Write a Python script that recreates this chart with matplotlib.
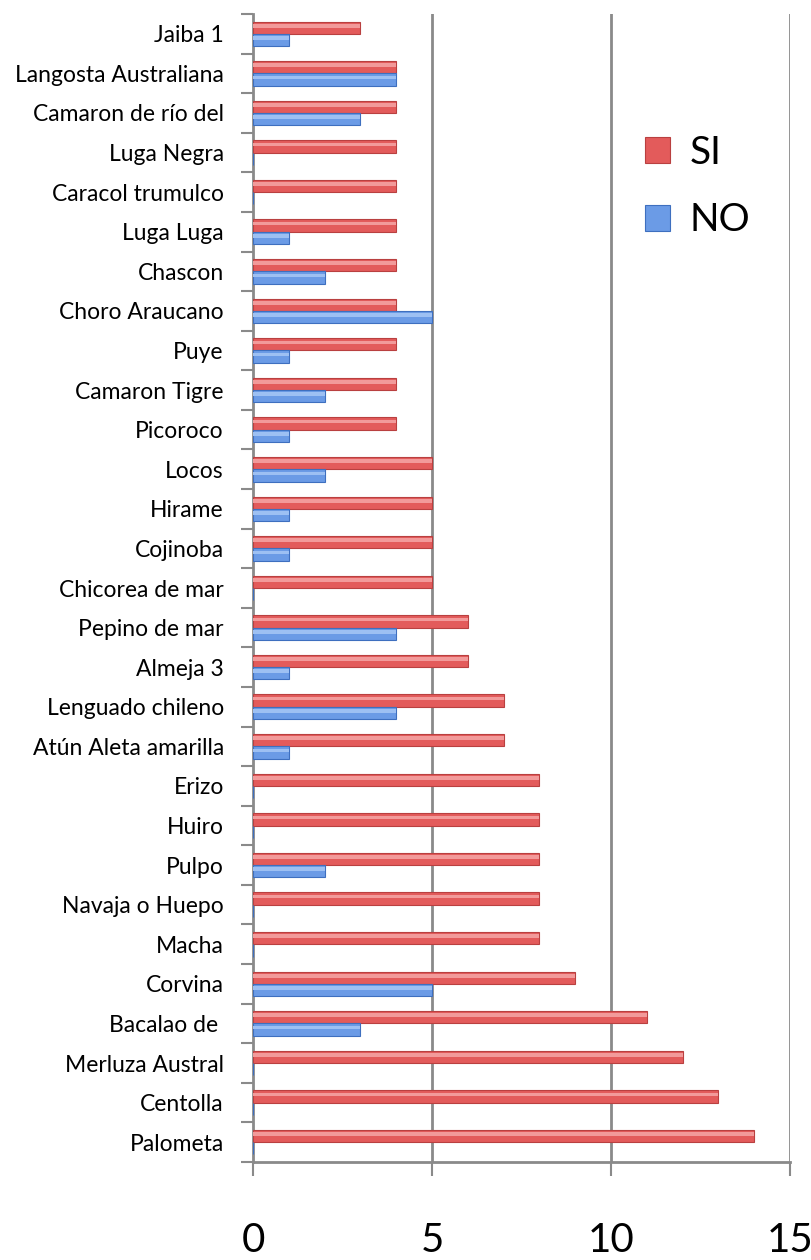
import numpy as np
import matplotlib.pyplot as plt

# categories from bottom to top
especies = ["Palometa", "Centolla", "Merluza Austral", "Bacalao de ", "Corvina",
            "Macha", "Navaja o Huepo", "Pulpo", "Huiro", "Erizo",
            "Atún Aleta amarilla", "Lenguado chileno", "Almeja 3", "Pepino de mar",
            "Chicorea de mar", "Cojinoba", "Hirame", "Locos", "Picoroco",
            "Camaron Tigre", "Puye", "Choro Araucano", "Chascon", "Luga Luga",
            "Caracol trumulco", "Luga Negra", "Camaron de río del",
            "Langosta Australiana", "Jaiba 1"]
si = [14, 13, 12, 11, 9, 8, 8, 8, 8, 8, 7, 7, 6, 6, 5, 5, 5, 5, 4,
      4, 4, 4, 4, 4, 4, 4, 4, 4, 3]
no = [0, 0, 0, 3, 5, 0, 0, 2, 0, 0, 1, 4, 1, 4, 0, 1, 1, 2, 1,
      2, 1, 5, 2, 1, 0, 0, 3, 4, 1]
xticks = [0, 5, 10, 15]

plt.rcParams['font.family'] = ['Lato', 'DejaVu Sans']

fig = plt.figure(figsize=(8.11, 12.6), dpi=100)
ax = fig.add_axes([253 / 811, 1 - 1162 / 1260, (790 - 253) / 811, (1162 - 14) / 1260])

y = np.arange(len(especies))
h = 0.31
ax.barh(y + h / 2, si, height=h, color="#e35b5b", edgecolor="#b94040", linewidth=0.8,
        label="SI", zorder=3)
ax.barh(y - h / 2, no, height=h, color="#6b9be6", edgecolor="#3e6fbf", linewidth=0.8,
        label="NO", zorder=3)
# light highlight stripe for the rounded look
ax.barh(y + h / 2 + 0.05, si, height=h * 0.3, color="#f29a9a", linewidth=0, zorder=4)
ax.barh(y - h / 2 + 0.05, no, height=h * 0.3, color="#9dc0f3", linewidth=0, zorder=4)

ax.set_xlim(0, 15)
ax.set_ylim(-0.5, len(especies) - 0.5)

for xv in xticks[1:]:
    ax.axvline(xv, color="#8a8a8a", lw=2, zorder=1)

ax.set_yticks(y)
ax.set_yticklabels(especies, fontsize=16.5)
ax.set_yticks(np.arange(-0.5, len(especies), 1), minor=True)
ax.tick_params(axis="y", which="major", length=0, pad=21)
ax.tick_params(axis="y", which="minor", length=9, color="#8a8a8a", width=1.5)

ax.set_xticks(xticks)
ax.set_xticklabels([str(v) for v in xticks], fontsize=29)
ax.tick_params(axis="x", length=10, color="#8a8a8a", width=1.5, pad=33)

for s in ["top", "right"]:
    ax.spines[s].set_visible(False)
for s in ["left", "bottom"]:
    ax.spines[s].set_color("#8a8a8a")
    ax.spines[s].set_linewidth(2)

leg = ax.legend(loc="upper left", bbox_to_anchor=(0.665, 0.925), frameon=False,
                fontsize=28, handlelength=0.65, handleheight=0.65, labelspacing=0.8,
                handletextpad=0.5)

fig.savefig("out.png", dpi=100)
